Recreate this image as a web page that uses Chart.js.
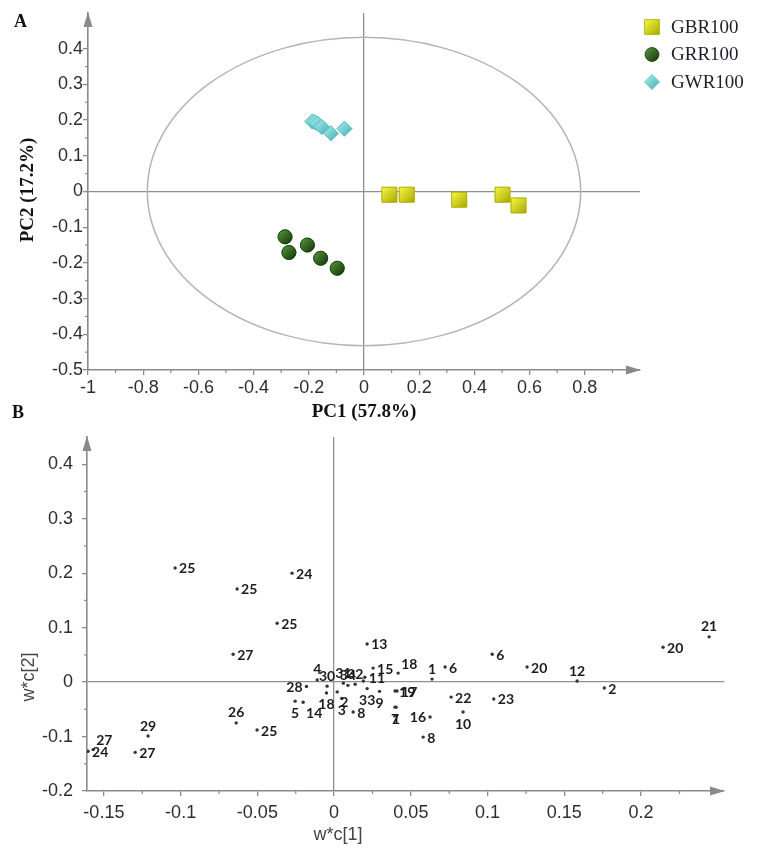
<!DOCTYPE html>
<html>
<head>
<meta charset="utf-8">
<script src="https://cdn.jsdelivr.net/npm/chart.js@4.4.1/dist/chart.umd.min.js"></script>
<style>
  html, body { margin: 0; padding: 0; background: #fff; }
  #wrap { position: relative; width: 757px; height: 857px; }
  canvas { position: absolute; left: 0; }
  #scores { top: 0; }
  #loadings { top: 430px; }
</style>
</head>
<body>
<div id="wrap">
  <canvas id="scores" width="757" height="430"></canvas>
  <canvas id="loadings" width="757" height="427"></canvas>
</div>
<script>
// panel A - PCA scores
const groups = ['GBR100', 'GRR100', 'GWR100'];
const gbrPC1 = [0.092, 0.155, 0.345, 0.502, 0.560];
const gbrPC2 = [-0.009, -0.009, -0.023, -0.009, -0.039];
const grrPC1 = [-0.286, -0.272, -0.205, -0.157, -0.097];
const grrPC2 = [-0.127, -0.171, -0.150, -0.187, -0.215];
const gwrPC1 = [-0.187, -0.178, -0.168, -0.153, -0.120, -0.071];
const gwrPC2 = [0.196, 0.194, 0.190, 0.181, 0.163, 0.176];
const hotellingAxes = [0.785, 0.432];
const pc1Ticks = [-1, -0.8, -0.6, -0.4, -0.2, 0, 0.2, 0.4, 0.6, 0.8];
const pc1Minor = [-0.9, -0.7, -0.5, -0.3, -0.1, 0.1, 0.3, 0.5, 0.7, 0.9];
const pc2Ticks = [-0.5, -0.4, -0.3, -0.2, -0.1, 0, 0.1, 0.2, 0.3, 0.4];
const pc2Minor = [-0.45, -0.35, -0.25, -0.15, -0.05, 0.05, 0.15, 0.25, 0.35];

// panel B - loadings w*c
const loadX = [-0.1036, -0.0632, -0.0274, -0.0371, -0.0658, -0.0638, -0.0502, -0.1212, -0.1296, -0.1603,
  -0.157, 0.0215, 0.103, 0.1257, 0.0638, 0.0723, 0.0417, 0.0254, 0.020, 0.0397,
  0.041, 0.0397, 0.0404, 0.0625, 0.058, 0.0762, 0.084, 0.104, 0.2143, 0.2443,
  0.1583, 0.176, 0.0296, 0.0215, 0.0124, 0.002, 0.005, -0.005, -0.0202, -0.0254,
  -0.018, -0.011, -0.0046, 0.006, 0.009, 0.0137, 0.019];
const loadY = [0.2096, 0.171, 0.200, 0.108, 0.051, -0.075, -0.088, -0.099, -0.129, -0.127,
  -0.124, 0.070, 0.051, 0.0276, 0.0055, 0.0276, 0.0165, 0.0257, 0.009, -0.0165,
  -0.0165, -0.046, -0.046, -0.064, -0.101, -0.0276, -0.055, -0.031, 0.064, 0.083,
  0.002, -0.011, -0.017, -0.012, -0.055, -0.018, -0.030, -0.020, -0.037, -0.035,
  -0.008, 0.004, -0.0075, -0.002, -0.006, -0.004, 0.002];
const loadNames = ['25', '25', '24', '25', '27', '26', '25', '29', '27', '24',
  '27', '13', '6', '20', '1', '6', '18', '15', '11', '19',
  '17', '7', '1', '16', '8', '22', '10', '23', '20', '21',
  '12', '2', '9', '33', '8', '2', '3', '18', '14', '5',
  '28', '4', '30', '31', '34', '32', ''];
const nameSide = ['r', 'r', 'r', 'r', 'r', 't', 'r', 't', 'r', 'r',
  'tr', 'r', 'r', 'r', 't', 'r', 'tr', 'r', 'r', 'r',
  'r', 'b', 'b', 'l', 'r', 'r', 'b', 'r', 'r', 't',
  't', 'r', 'b', 'b', 'r', 'br', 'b', 'b', 'br', 'b',
  'l', 't', 't', 't', 't', 't', 'r'];
const w1Ticks = [-0.15, -0.1, -0.05, 0, 0.05, 0.1, 0.15, 0.2];
const w1Minor = [-0.125, -0.075, -0.025, 0.025, 0.075, 0.125, 0.175, 0.225];
const w2Ticks = [-0.2, -0.1, 0, 0.1, 0.2, 0.3, 0.4];
const w2Minor = [-0.15, -0.05, 0.05, 0.15, 0.25, 0.35];

const AXIS = '#8a8a8a';
const ZERO = '#8f8f8f';
const SERIF = "'Liberation Serif', 'Times New Roman', serif";
const SANS = "'Liberation Sans', Arial, sans-serif";
const fmt = v => String(Math.round(v * 1000) / 1000);

const markerStyles = [
  { shape: 'rect', radius: 10.5, fill: '#d4d40c', light: '#f7f748', dark: '#a8a800', edge: '#adad00' },
  { shape: 'circle', radius: 7, fill: '#2e5c1e', light: '#4e8a36', dark: '#1a420f', edge: '#1c3f10' },
  { shape: 'rectRot', radius: 7.5, fill: '#6ccece', light: '#9ce6e6', dark: '#52b8b8', edge: '#5bbfbf' }
];

Chart.defaults.font.family = SANS;

function line(ctx, x1, y1, x2, y2) {
  ctx.beginPath(); ctx.moveTo(x1, y1); ctx.lineTo(x2, y2); ctx.stroke();
}

function text(ctx, s, x, y, font, color, align, base, rot) {
  ctx.save();
  ctx.font = font; ctx.fillStyle = color;
  ctx.textAlign = align || 'left'; ctx.textBaseline = base || 'middle';
  ctx.translate(x, y);
  if (rot) ctx.rotate(rot);
  ctx.fillText(s, 0, 0);
  ctx.restore();
}

function shapePath(ctx, shape, x, y, r) {
  ctx.beginPath();
  if (shape === 'rect') {
    const h = r * Math.SQRT1_2;
    ctx.rect(x - h, y - h, 2 * h, 2 * h);
  } else if (shape === 'circle') {
    ctx.arc(x, y, r, 0, Math.PI * 2);
  } else {
    ctx.moveTo(x, y - r); ctx.lineTo(x + r, y); ctx.lineTo(x, y + r); ctx.lineTo(x - r, y); ctx.closePath();
  }
}

function paintMarker(ctx, st, x, y) {
  const r = st.radius;
  const g = ctx.createLinearGradient(x - r * 0.7, y - r * 0.7, x + r * 0.7, y + r * 0.7);
  g.addColorStop(0, st.light);
  g.addColorStop(1, st.dark);
  ctx.save();
  shapePath(ctx, st.shape, x, y, r);
  ctx.fillStyle = g; ctx.fill();
  ctx.strokeStyle = st.edge; ctx.lineWidth = 0.8; ctx.stroke();
  ctx.restore();
}

function axisExtras(chart, minorX, minorY) {
  const { ctx, chartArea: a, scales: { x, y } } = chart;
  ctx.save();
  ctx.strokeStyle = AXIS; ctx.fillStyle = AXIS; ctx.lineWidth = 1.2;
  minorX.forEach(v => { const p = x.getPixelForValue(v); line(ctx, p, a.bottom, p, a.bottom + 3); });
  minorY.forEach(v => { const p = y.getPixelForValue(v); line(ctx, a.left - 3, p, a.left, p); });
  ctx.beginPath();
  ctx.moveTo(a.left, a.top - 1); ctx.lineTo(a.left - 4.5, a.top + 14); ctx.lineTo(a.left + 4.5, a.top + 14);
  ctx.closePath(); ctx.fill();
  ctx.beginPath();
  ctx.moveTo(a.right + 1, a.bottom); ctx.lineTo(a.right - 14, a.bottom - 4.5); ctx.lineTo(a.right - 14, a.bottom + 4.5);
  ctx.closePath(); ctx.fill();
  ctx.restore();
}

function zeroGrid(c) {
  return c.tick && c.tick.value === 0 ? ZERO : 'rgba(0,0,0,0)';
}

// fixed axis box size, and no extra room asked for the end labels
function fixBox(prop, size) {
  return s => {
    s[prop] = size;
    s.paddingTop = 0; s.paddingBottom = 0; s.paddingLeft = 0; s.paddingRight = 0;
  };
}

function scaleOpts(ticksArr, min, max, fontSize, pad, fitFn) {
  return {
    type: 'linear', min: min, max: max,
    afterBuildTicks: s => { s.ticks = ticksArr.map(v => ({ value: v })); },
    afterFit: fitFn,
    grid: { drawOnChartArea: true, color: zeroGrid, tickColor: AXIS, tickLength: 5, lineWidth: 1.3 },
    border: { display: true, color: AXIS, width: 1.6 },
    ticks: { color: '#2e2e2e', font: { size: fontSize }, padding: pad, autoSkip: false, maxRotation: 0, callback: v => fmt(v) }
  };
}

// ---------- chart A ----------
const scorePlugin = {
  id: 'scoreDeco',
  beforeDatasetsDraw(chart) {
    const { ctx, scales: { x, y } } = chart;
    const cx = x.getPixelForValue(0), cy = y.getPixelForValue(0);
    const rx = x.getPixelForValue(hotellingAxes[0]) - cx;
    const ry = cy - y.getPixelForValue(hotellingAxes[1]);
    ctx.save();
    ctx.strokeStyle = '#b4b4b4'; ctx.lineWidth = 1.5;
    ctx.beginPath(); ctx.ellipse(cx, cy, rx, ry, 0, 0, Math.PI * 2); ctx.stroke();
    ctx.restore();
  },
  afterDatasetsDraw(chart) {
    const ctx = chart.ctx;
    chart.data.datasets.forEach((ds, i) => {
      chart.getDatasetMeta(i).data.forEach(el => paintMarker(ctx, markerStyles[i], el.x, el.y));
    });
  },
  afterDraw(chart) {
    const ctx = chart.ctx;
    axisExtras(chart, pc1Minor, pc2Minor);
    // legend
    groups.forEach((g, i) => {
      const yy = 27 + i * 27.5;
      paintMarker(ctx, markerStyles[i], 652, yy);
      text(ctx, g, 671, yy + 1, '19px ' + SERIF, '#1e1e2a', 'left', 'middle');
    });
    text(ctx, 'A', 14, 22, 'bold 18px ' + SERIF, '#111', 'left', 'middle');
    text(ctx, 'B', 12, 413, 'bold 18px ' + SERIF, '#111', 'left', 'middle');
    text(ctx, 'PC1 (57.8%)', 364, 412, 'bold 19px ' + SERIF, '#111', 'center', 'middle');
    text(ctx, 'PC2 (17.2%)', 28, 190, 'bold 19px ' + SERIF, '#111', 'center', 'middle', -Math.PI / 2);
  }
};

const toPts = (xs, ys) => xs.map((v, i) => ({ x: v, y: ys[i] }));
const scoreSets = [[gbrPC1, gbrPC2], [grrPC1, grrPC2], [gwrPC1, gwrPC2]];

new Chart(document.getElementById('scores'), {
  type: 'scatter',
  data: {
    datasets: scoreSets.map((s, i) => ({
      label: groups[i],
      data: toPts(s[0], s[1]),
      pointStyle: markerStyles[i].shape,
      pointRadius: markerStyles[i].radius,
      pointBackgroundColor: markerStyles[i].fill,
      pointBorderColor: markerStyles[i].edge,
      pointBorderWidth: 0.8
    }))
  },
  options: {
    responsive: false,
    animation: false,
    events: [],
    layout: { padding: { top: 13, right: 117, left: 0, bottom: 0 } },
    plugins: { legend: { display: false }, tooltip: { enabled: false } },
    scales: {
      x: scaleOpts(pc1Ticks, -1, 1, 18, 2, fixBox('height', 60)),
      y: scaleOpts(pc2Ticks, -0.5, 0.5, 18, 0, fixBox('width', 88))
    }
  },
  plugins: [scorePlugin]
});

// ---------- chart B ----------
const loadPlugin = {
  id: 'loadDeco',
  afterDatasetsDraw(chart) {
    const ctx = chart.ctx;
    ctx.save();
    ctx.font = 'bold 14px Lato, ' + SANS;
    ctx.fillStyle = '#1c1c1c';
    chart.getDatasetMeta(0).data.forEach((el, i) => {
      const s = nameSide[i], n = loadNames[i];
      let x = el.x, y = el.y;
      if (s === 'r') { ctx.textAlign = 'left'; ctx.textBaseline = 'middle'; x += 4; }
      else if (s === 'l') { ctx.textAlign = 'right'; ctx.textBaseline = 'middle'; x -= 4; }
      else if (s === 't') { ctx.textAlign = 'center'; ctx.textBaseline = 'bottom'; y -= 4; }
      else if (s === 'b') { ctx.textAlign = 'center'; ctx.textBaseline = 'top'; y += 4; }
      else if (s === 'tr') { ctx.textAlign = 'left'; ctx.textBaseline = 'bottom'; x += 3; y -= 3; }
      else { ctx.textAlign = 'left'; ctx.textBaseline = 'top'; x += 3; y += 3; }
      ctx.fillText(n, x, y + 1);
    });
    ctx.restore();
  },
  afterDraw(chart) {
    const ctx = chart.ctx;
    axisExtras(chart, w1Minor, w2Minor);
    text(ctx, 'w*c[1]', 338, 405, '18px ' + SANS, '#444', 'center', 'middle');
    text(ctx, 'w*c[2]', 29, 247, '18px ' + SANS, '#444', 'center', 'middle', -Math.PI / 2);
  }
};

new Chart(document.getElementById('loadings'), {
  type: 'scatter',
  data: {
    datasets: [{
      label: 'w*c',
      data: toPts(loadX, loadY),
      pointRadius: 1.7,
      pointBackgroundColor: '#2b3a2b',
      pointBorderWidth: 0
    }]
  },
  options: {
    responsive: false,
    animation: false,
    events: [],
    layout: { padding: { top: 7, right: 33, left: 0, bottom: 0 } },
    plugins: { legend: { display: false }, tooltip: { enabled: false } },
    scales: {
      x: scaleOpts(w1Ticks, -0.161, 0.254, 18, 6, fixBox('height', 66)),
      y: scaleOpts(w2Ticks, -0.2, 0.45, 18, 9, fixBox('width', 87))
    }
  },
  plugins: [loadPlugin]
});
</script>
</body>
</html>
